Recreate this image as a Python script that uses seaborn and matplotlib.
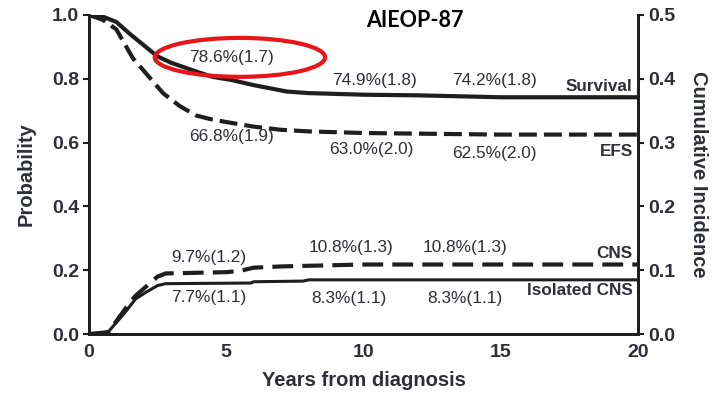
import numpy as np
import pandas as pd
import matplotlib
matplotlib.use("Agg")
import matplotlib.pyplot as plt
import seaborn as sns
from matplotlib.patches import Ellipse

# curvas (años desde el diagnostico)
surv_t = [0, 0.5, 1, 1.5, 2, 2.5, 3, 3.5, 4, 4.5, 5.2, 6, 7.2, 8, 10, 12, 15, 20]
surv_p = [1.0, 0.995, 0.978, 0.94, 0.905, 0.87, 0.85, 0.835, 0.82, 0.806, 0.796, 0.78, 0.76, 0.755, 0.75, 0.748, 0.742, 0.742]

efs_t = [0, 0.5, 1, 1.3, 1.6, 2, 2.4, 2.7, 3.3, 3.9, 4.5, 5.1, 6, 7, 8, 10, 12, 15, 20]
efs_p = [1.0, 0.985, 0.955, 0.91, 0.865, 0.825, 0.785, 0.755, 0.715, 0.685, 0.672, 0.663, 0.65, 0.64, 0.635, 0.63, 0.628, 0.625, 0.625]

cns_t = [0, 0.7, 1, 1.3, 1.7, 2.1, 2.5, 2.8, 5, 5.5, 6, 7, 9, 10, 20]
cns_p = [0, 0.003, 0.02, 0.038, 0.06, 0.075, 0.09, 0.095, 0.097, 0.099, 0.104, 0.106, 0.108, 0.109, 0.109]

iso_t = [0, 0.7, 1, 1.3, 1.7, 2.1, 2.5, 2.8, 5.9, 6, 7.8, 8, 20]
iso_p = [0, 0.003, 0.018, 0.033, 0.055, 0.066, 0.076, 0.079, 0.08, 0.082, 0.083, 0.085, 0.085]

# etiquetas (texto, x, y en escala de probabilidad)
etiquetas = [
    ("78.6%(1.7)", 5.19, 0.868), ("74.9%(1.8)", 10.4, 0.796), ("74.2%(1.8)", 14.75, 0.796),
    ("66.8%(1.9)", 5.19, 0.618), ("63.0%(2.0)", 10.3, 0.577), ("62.5%(2.0)", 14.75, 0.567),
    ("9.7%(1.2)", 4.37, 0.241), ("10.8%(1.3)", 9.55, 0.27), ("10.8%(1.3)", 13.7, 0.27),
    ("7.7%(1.1)", 4.37, 0.116), ("8.3%(1.1)", 9.47, 0.113), ("8.3%(1.1)", 13.7, 0.113),
]
nombres = [("Survival", 0.777), ("EFS", 0.571), ("CNS", 0.254), ("Isolated CNS", 0.135)]

sns.set_style("white")
plt.rcParams['font.family'] = ['Liberation Sans', 'DejaVu Sans']
gris = "#2e2e36"
negro = "#1e1e1e"

fig = plt.figure(figsize=(7.22, 4.03), dpi=100)
ax = fig.add_axes([0.123, 0.171, 0.761, 0.792])
ax2 = ax.twinx()

df_s = pd.DataFrame({"t": surv_t, "p": surv_p})
df_e = pd.DataFrame({"t": efs_t, "p": efs_p})
df_c = pd.DataFrame({"t": cns_t, "p": cns_p})
df_i = pd.DataFrame({"t": iso_t, "p": iso_p})

sns.lineplot(data=df_s, x="t", y="p", ax=ax, color=negro, lw=3)
sns.lineplot(data=df_e, x="t", y="p", ax=ax, color=negro, lw=3).lines[-1].set_dashes([4.3, 1.7])
sns.lineplot(data=df_c, x="t", y="p", ax=ax2, color=negro, lw=3).lines[-1].set_dashes([5, 2.2])
sns.lineplot(data=df_i, x="t", y="p", ax=ax2, color=negro, lw=2.2)

ax.set_xlim(0, 20)
ax.set_ylim(0, 1.0)
ax2.set_ylim(0, 0.5)
ax.set_xticks([0, 5, 10, 15, 20])
ax.set_yticks(np.arange(0, 1.01, 0.2))
ax2.set_yticks(np.arange(0, 0.51, 0.1))
ax.set_yticklabels([f"{v:.1f}" for v in np.arange(0, 1.01, 0.2)])
ax2.set_yticklabels([f"{v:.1f}" for v in np.arange(0, 0.51, 0.1)])

for a in (ax, ax2):
    for s in a.spines.values():
        s.set_color(negro)
        s.set_linewidth(2)
    a.spines["top"].set_visible(False)
    a.tick_params(direction="out", length=4, width=1.5, color=negro,
                  labelsize=14, labelcolor=gris, pad=3)
    for lbl in a.get_xticklabels() + a.get_yticklabels():
        lbl.set_fontweight("bold")

ax.set_xlabel("Years from diagnosis", fontsize=14.5, fontweight="bold", color=gris, labelpad=7)
ax.set_ylabel("Probability", fontsize=14.5, fontweight="bold", color=gris, labelpad=12)
ax2.set_ylabel("Cumulative Incidence", fontsize=14.5, fontweight="bold", color=gris,
               rotation=270, labelpad=24)

for txt, x, y in etiquetas:
    ax.text(x, y, txt, ha="center", va="center", fontsize=12.4, color=gris)
for txt, y in nombres:
    ax.text(19.8, y, txt, ha="right", va="center", fontsize=12.3, fontweight="bold", color=gris)

ax.add_patch(Ellipse((5.5, 0.867), 6.2, 0.122, fill=False, edgecolor="#e8141a", lw=3, zorder=5))

fig.text(0.575, 0.95, "AIEOP-87", ha="center", va="center", fontsize=15.5,
         fontweight="bold", color="black", family=["Lato", "DejaVu Sans"])

fig.savefig("out.png", dpi=100)
